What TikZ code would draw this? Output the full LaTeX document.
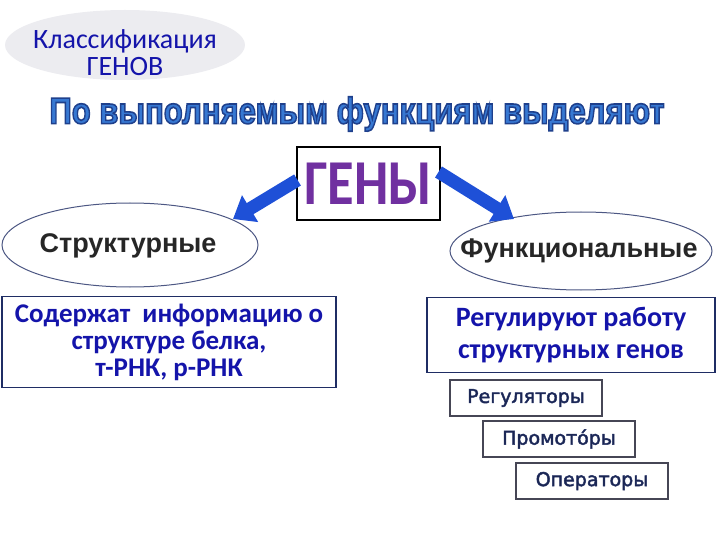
\documentclass[tikz,border=0pt]{standalone}
\usepackage{fontspec}
\setmainfont{Carlito}
\newfontfamily\arialfont{Liberation Sans}
\newfontfamily\dejavufont{DejaVu Sans}
\usepackage{tikz}
\usepackage{xcolor}
\usetikzlibrary{arrows.meta}
\usetikzlibrary{shapes.geometric}
\definecolor{textblue}{RGB}{20, 20, 170}
\definecolor{titleblue}{RGB}{55, 120, 210}
\definecolor{genepurple}{RGB}{112, 48, 160}
\definecolor{arrowblue}{RGB}{30, 80, 215}
\definecolor{framenavy}{RGB}{31, 45, 100}
\definecolor{ovalgray}{RGB}{236, 236, 240}
\definecolor{smallgray}{RGB}{70, 70, 85}

% fill and stroke the glyphs (thicker letters with an outline)
\newcommand{\strokedtext}[3]{\special{pdf:literal direct q 2 Tr #1 w #2 RG}#3\special{pdf:literal direct Q}}

\tikzset{
    infobox/.style={draw=framenavy, line width=1.6pt, minimum height=#1},
    smallbox/.style={draw=smallgray, line width=1.3pt, fill=white, minimum width=152pt, minimum height=36pt,
        font=\dejavufont\fontsize{19}{20}\selectfont, text=framenavy!80!black},
    oval/.style={ellipse, draw=framenavy!80, line width=1pt, fill=white, inner sep=0pt},
    ovaltext/.style={font=\arialfont\bfseries\fontsize{27}{28}\selectfont, text=black!85},
    bigarrow/.style={arrowblue, line width=13pt, -{Triangle[width=30pt, length=20pt]}}
}

\begin{document}
\begin{tikzpicture}[>=latex, x=1pt, y=-1pt]
    \useasboundingbox (0,0) rectangle (720,540);

    % Header oval
    \node[ellipse, fill=ovalgray, minimum width=240pt, minimum height=70pt, inner sep=0pt] (head) at (125,45) {};
    \node[align=center, text=textblue, font=\fontsize{28}{27}\selectfont] (headtxt) at (125,53)
        {Классификация\\ГЕНОВ};

    % Title
    \node[text=titleblue, font=\arialfont\bfseries\fontsize{37}{40}\selectfont] (title) at (357,114)
        {\scalebox{0.84}[1]{\strokedtext{1.6}{0.12 0.25 0.55}{По выполняемым функциям выделяют}}};

    % Genes
    \node[draw=black, line width=2pt, fill=white, minimum width=143pt, minimum height=73pt, inner sep=0pt,
          text=genepurple, font=\bfseries\fontsize{64}{64}\selectfont] (genes) at (368,184)
        {\scalebox{0.85}[1]{ГЕНЫ}};

    % Two kinds
    \node[oval, minimum width=256pt, minimum height=84pt] (struct) at (130,245) {};
    \node[ovaltext] (structtxt) at (128,246) {Структурные};
    \node[oval, minimum width=262pt, minimum height=78pt] (func) at (581,251) {};
    \node[ovaltext] (functxt) at (579,251) {Функциональные};

    % Arrows
    \coordinate (lt) at (233,219);
    \coordinate (rt) at (514,219);
    \draw[bigarrow] (genes.west) ++(2,-4) -- (lt);
    \draw[bigarrow] (genes.east) ++(-2,-12) -- (rt);

    % Descriptions
    \node[infobox=91pt, minimum width=334pt, align=center, text=textblue,
          font=\bfseries\fontsize{27}{27}\selectfont] (sdesc) at (169,342)
        {Содержат\ \ информацию о\\структуре белка,\\т-РНК, р-РНК};
    \node[infobox=75pt, minimum width=288pt, align=center, text=textblue,
          font=\bfseries\fontsize{28}{32}\selectfont] (fdesc) at (571,335)
        {Регулируют работу\\структурных генов};

    % Regulatory elements
    \node[smallbox] (reg) at (526,398) {\strokedtext{0.5}{0.15 0.2 0.4}{Регуляторы}};
    \node[smallbox] (prom) at (559,439) {\strokedtext{0.5}{0.15 0.2 0.4}{Промотóры}};
    \node[smallbox] (oper) at (592,481) {\strokedtext{0.5}{0.15 0.2 0.4}{Операторы}};
\end{tikzpicture}
\end{document}
